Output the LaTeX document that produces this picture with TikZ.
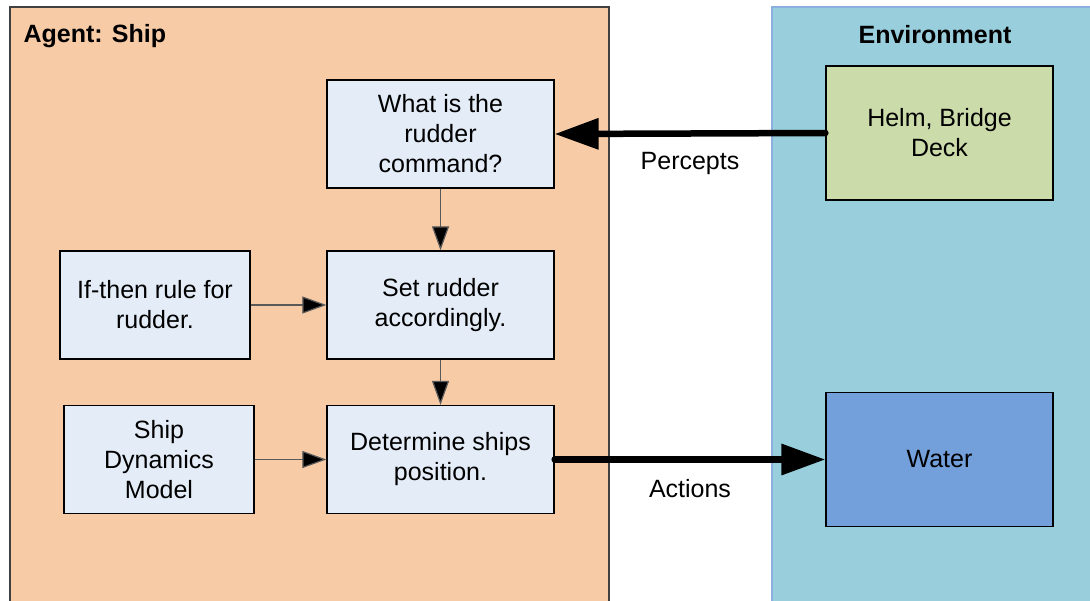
\documentclass[tikz,border=0pt]{standalone}
\usepackage{fontspec}
\setmainfont{Liberation Sans}
\usetikzlibrary{arrows.meta}
\definecolor{agentfill}{RGB}{248,203,167}
\definecolor{envfill}{RGB}{153,207,221}
\definecolor{envline}{RGB}{140,175,225}
\definecolor{procfill}{RGB}{228,236,247}
\definecolor{helmfill}{RGB}{204,219,170}
\definecolor{waterfill}{RGB}{115,159,218}
\tikzset{
  proc/.style={draw=black, line width=1.3pt, fill=procfill, minimum width=227pt,
    minimum height=108pt, align=center, inner sep=2pt},
  side/.style={proc, minimum width=190pt},
  envbox/.style={proc, minimum width=227pt, minimum height=134pt},
  thin arrow/.style={draw=black!65, line width=1.2pt,
    -{Triangle[length=24pt, width=17pt, fill=black]}},
  thick arrow/.style={draw=black, line width=6.5pt, line cap=round,
    -{Triangle[length=44pt, width=30pt]}},
  lbl/.style={font=\fontsize{25}{30}\selectfont},
  title/.style={font=\bfseries\fontsize{25}{30}\selectfont}
}
\begin{document}
\begin{tikzpicture}[x=1pt, y=-1pt, font=\fontsize{25}{30}\selectfont]
\useasboundingbox (0,0) rectangle (1090,600);
\clip (0,0) rectangle (1090,600);
% agent and environment panels
\draw[fill=agentfill, draw=black!75, line width=1.2pt] (10,7) rectangle (609,620);
\draw[fill=envfill, draw=envline, line width=1.2pt] (772,7) rectangle (1110,620);
\node[title, anchor=west] (agenttitle) at (20,36) {Agent: Ship};
\node[title] (envtitle) at (935,35) {Environment};
% agent internals
\node[proc] (query) at (440.5,134) {What is the\\rudder\\command?};
\node[proc] (set) at (440.5,305) {Set rudder\\accordingly.};
\node[proc] (det) at (440.5,459.5) {Determine ships\\position.};
\node[side] (rule) at (155,305) {If-then rule for\\rudder.};
\node[side] (model) at (159,459.5) {Ship\\Dynamics\\Model};
% environment internals
\node[envbox, fill=helmfill] (helm) at (939.5,133) {Helm, Bridge\\Deck};
\node[envbox, fill=waterfill] (water) at (939.5,459.5) {Water};
% internal flow
\draw[thin arrow] (query) -- (set);
\draw[thin arrow] (set) -- (det);
\draw[thin arrow] (rule) -- (set);
\draw[thin arrow] (model) -- (det);
% percepts and actions
\draw[thick arrow] (helm.west) -- (query.east) node[lbl, midway, below=12pt] (perc) {Percepts};
\draw[thick arrow] (det.east) -- (water.west) node[lbl, midway, below=13pt] (act) {Actions};
\end{tikzpicture}
\end{document}
